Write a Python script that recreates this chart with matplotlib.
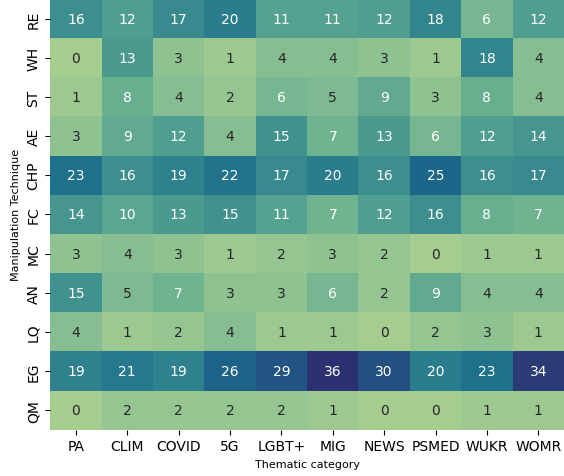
import numpy as np
import matplotlib
matplotlib.use("Agg")
import matplotlib.pyplot as plt
import seaborn as sns

techniques = ["RE", "WH", "ST", "AE", "CHP", "FC", "MC", "AN", "LQ", "EG", "QM"]
categories = ["PA", "CLIM", "COVID", "5G", "LGBT+", "MIG", "NEWS", "PSMED", "WUKR", "WOMR"]

counts = [
    [16, 12, 17, 20, 11, 11, 12, 18, 6, 12],
    [0, 13, 3, 1, 4, 4, 3, 1, 18, 4],
    [1, 8, 4, 2, 6, 5, 9, 3, 8, 4],
    [3, 9, 12, 4, 15, 7, 13, 6, 12, 14],
    [23, 16, 19, 22, 17, 20, 16, 25, 16, 17],
    [14, 10, 13, 15, 11, 7, 12, 16, 8, 7],
    [3, 4, 3, 1, 2, 3, 2, 0, 1, 1],
    [15, 5, 7, 3, 3, 6, 2, 9, 4, 4],
    [4, 1, 2, 4, 1, 1, 0, 2, 3, 1],
    [19, 21, 19, 26, 29, 36, 30, 20, 23, 34],
    [0, 2, 2, 2, 2, 1, 0, 0, 1, 1],
]

fig = plt.figure(figsize=(5.64, 4.77), dpi=100)
ax = fig.add_axes([0.089, 0.097, 0.911, 0.903])

sns.heatmap(np.array(counts), annot=True, fmt="d", cmap="crest", cbar=False,
            xticklabels=categories, yticklabels=techniques, ax=ax,
            annot_kws={"fontsize": 10})

ax.tick_params(axis="both", labelsize=10)
plt.setp(ax.get_yticklabels(), rotation=90, va="center")
plt.setp(ax.get_xticklabels(), rotation=0)
ax.set_xlabel("Thematic category", fontsize=8)
ax.set_ylabel("Manipulation Technique", fontsize=8)

fig.savefig("out.png", dpi=100)
